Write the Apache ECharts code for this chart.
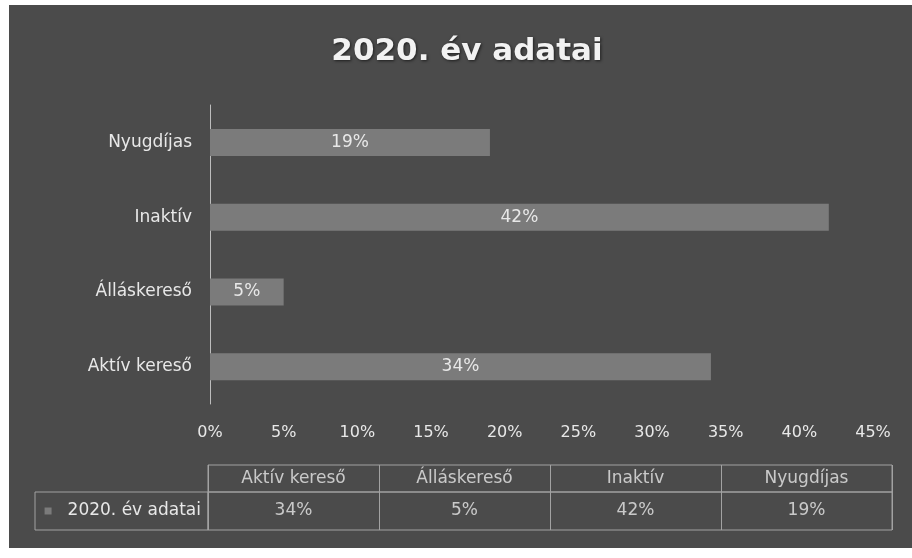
<!DOCTYPE html>
<html>
<head>
<meta charset="utf-8">
<script src="https://cdn.jsdelivr.net/npm/echarts@6/dist/echarts.min.js"></script>
<style>
html,body{margin:0;padding:0;background:#ffffff;}
#chart{width:912px;height:558px;}
</style>
</head>
<body>
<div id="chart"></div>
<script>
var titleText = '2020. év adatai';
var seriesName = '2020. év adatai';
var categories = ['Aktív kereső', 'Álláskereső', 'Inaktív', 'Nyugdíjas'];
var values = [34, 5, 42, 19];
var axisMin = 0, axisMax = 45, axisStep = 5;

var BG = '#4b4b4b', BAR = '#7b7b7b', TXT = '#e8e8e8', LINE = '#a2a2a2';
var FONT = 'DejaVu Sans';

var chart = echarts.init(document.getElementById('chart'));
chart.setOption({
  backgroundColor: '#ffffff',
  animation: false,
  graphic: [{
    type: 'rect', z: -100,
    shape: {x: 9, y: 5, width: 903, height: 543},
    style: {fill: BG}
  }],
  title: {
    text: titleText, left: 462, top: 31, textAlign: 'center',
    textStyle: {color: '#f2f2f2', fontFamily: FONT, fontWeight: 'bold', fontSize: 31,
      textShadowColor: 'rgba(0,0,0,0.6)', textShadowBlur: 3, textShadowOffsetX: 1, textShadowOffsetY: 1}
  },
  grid: [
    {left: 210, right: 39, top: 105, bottom: 154},
    {left: 208, right: 20, top: 465, height: 27, show: true, borderColor: LINE, borderWidth: 1},
    {left: 208, right: 20, top: 492, height: 38, show: true, borderColor: LINE, borderWidth: 1}
  ],
  xAxis: [
    {gridIndex: 0, type: 'value', min: axisMin, max: axisMax, interval: axisStep,
      axisLine: {show: false}, axisTick: {show: false}, splitLine: {show: false},
      axisLabel: {formatter: '{value}%', color: TXT, fontFamily: FONT, fontSize: 16, margin: 21}},
    {gridIndex: 1, type: 'category', data: categories, boundaryGap: true,
      axisLine: {show: false}, axisTick: {show: false}, axisLabel: {show: false},
      splitLine: {show: true, lineStyle: {color: LINE, width: 1}}},
    {gridIndex: 2, type: 'category', data: categories, boundaryGap: true,
      axisLine: {show: false}, axisTick: {show: false}, axisLabel: {show: false},
      splitLine: {show: true, lineStyle: {color: LINE, width: 1}}}
  ],
  yAxis: [
    {gridIndex: 0, type: 'category', data: categories,
      axisLine: {show: true, lineStyle: {color: '#bdbdbd', width: 1}},
      axisTick: {show: false},
      axisLabel: {color: TXT, fontFamily: FONT, fontSize: 17, margin: 18}},
    {gridIndex: 1, type: 'value', min: -1, max: 1, show: false},
    {gridIndex: 2, type: 'category', data: [seriesName],
      axisLine: {show: false}, axisTick: {show: false},
      axisLabel: {
        margin: 0,
        formatter: function (v) { return '{sq|}{gap|}{t|' + v + '}'; },
        width: 166, height: 38, lineHeight: 38,
        borderColor: LINE, borderWidth: 1, padding: [0, 7, 0, 0],
        rich: {
          sq: {width: 7, height: 7, backgroundColor: BAR},
          gap: {width: 16},
          t: {color: TXT, fontFamily: FONT, fontSize: 17}
        }
      }}
  ],
  series: [
    {type: 'bar', name: seriesName, xAxisIndex: 0, yAxisIndex: 0, data: values,
      barWidth: 27, itemStyle: {color: BAR},
      label: {show: true, position: 'inside', formatter: '{c}%', color: TXT, fontFamily: FONT, fontSize: 17}},
    {type: 'scatter', xAxisIndex: 1, yAxisIndex: 1, symbolSize: 0, silent: true,
      data: categories.map(function (c) { return [c, 0]; }),
      label: {show: true, position: 'inside', formatter: function (p) { return p.value[0]; },
        color: TXT, fontFamily: FONT, fontSize: 17}},
    {type: 'scatter', xAxisIndex: 2, yAxisIndex: 2, symbolSize: 0, silent: true,
      data: values.map(function (v, i) { return [categories[i], seriesName, v]; }),
      label: {show: true, position: 'inside', formatter: function (p) { return p.value[2] + '%'; },
        color: TXT, fontFamily: FONT, fontSize: 17}}
  ]
});
</script>
</body>
</html>
